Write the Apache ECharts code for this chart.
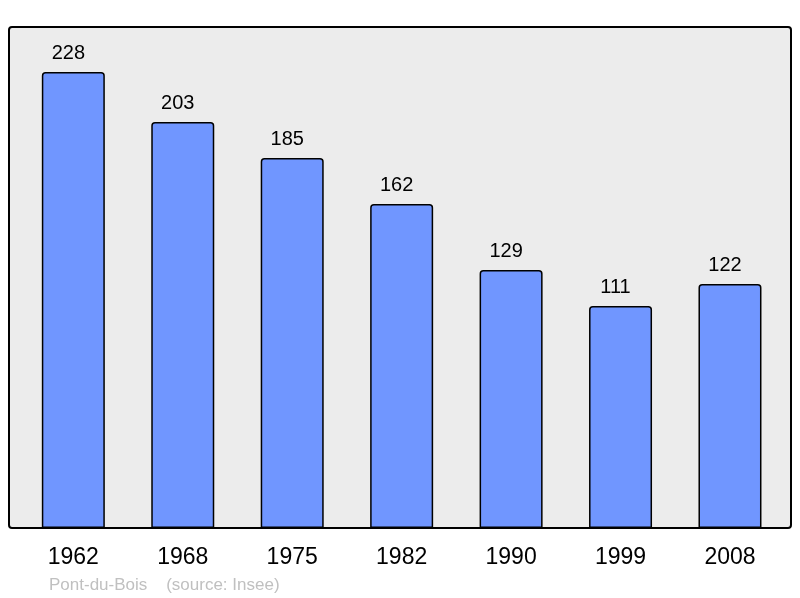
<!DOCTYPE html>
<html>
<head>
<meta charset="utf-8">
<script src="https://cdn.jsdelivr.net/npm/echarts@6/dist/echarts.min.js"></script>
<style>
  html, body { margin: 0; padding: 0; background: #fff; }
  #chart { width: 800px; height: 598px; }
</style>
</head>
<body>
<div id="chart"></div>
<script>
// population par recensement
const years = ['1962', '1968', '1975', '1982', '1990', '1999', '2008'];
const population = [228, 203, 185, 162, 129, 111, 122];

const chart = echarts.init(document.getElementById('chart'));

const option = {
  animation: false,
  textStyle: { fontFamily: 'Liberation Sans, Arial, sans-serif' },
  title: {
    text: 'Pont-du-Bois    (source: Insee)',
    left: 49,
    top: 577,
    padding: 0,
    textStyle: { color: '#c0c0c0', fontSize: 17, fontWeight: 'normal' }
  },
  graphic: [{
    type: 'rect',
    z: -10,
    shape: { x: 9, y: 27, width: 782, height: 501, r: 3 },
    style: { fill: '#ececec', stroke: '#000', lineWidth: 2 }
  }],
  grid: {
    left: 18.6,
    right: 15.3,
    top: 27,
    bottom: 70
  },
  xAxis: {
    type: 'category',
    data: years,
    axisLine: { show: false },
    axisTick: { show: false },
    axisLabel: { color: '#000', fontSize: 23, margin: 18 }
  },
  yAxis: {
    type: 'value',
    min: 0,
    max: 250.5,
    show: false,
    splitLine: { show: false }
  },
  series: [{
    type: 'bar',
    data: population,
    barWidth: 63,
    itemStyle: {
      color: '#7096ff',
      borderColor: '#000',
      borderWidth: 1.5,
      borderRadius: [3, 3, 0, 0]
    },
    label: {
      show: true,
      position: 'top',
      distance: 9,
      offset: [-5, 0],
      color: '#000',
      fontSize: 20
    }
  }]
};

chart.setOption(option);
</script>
</body>
</html>
